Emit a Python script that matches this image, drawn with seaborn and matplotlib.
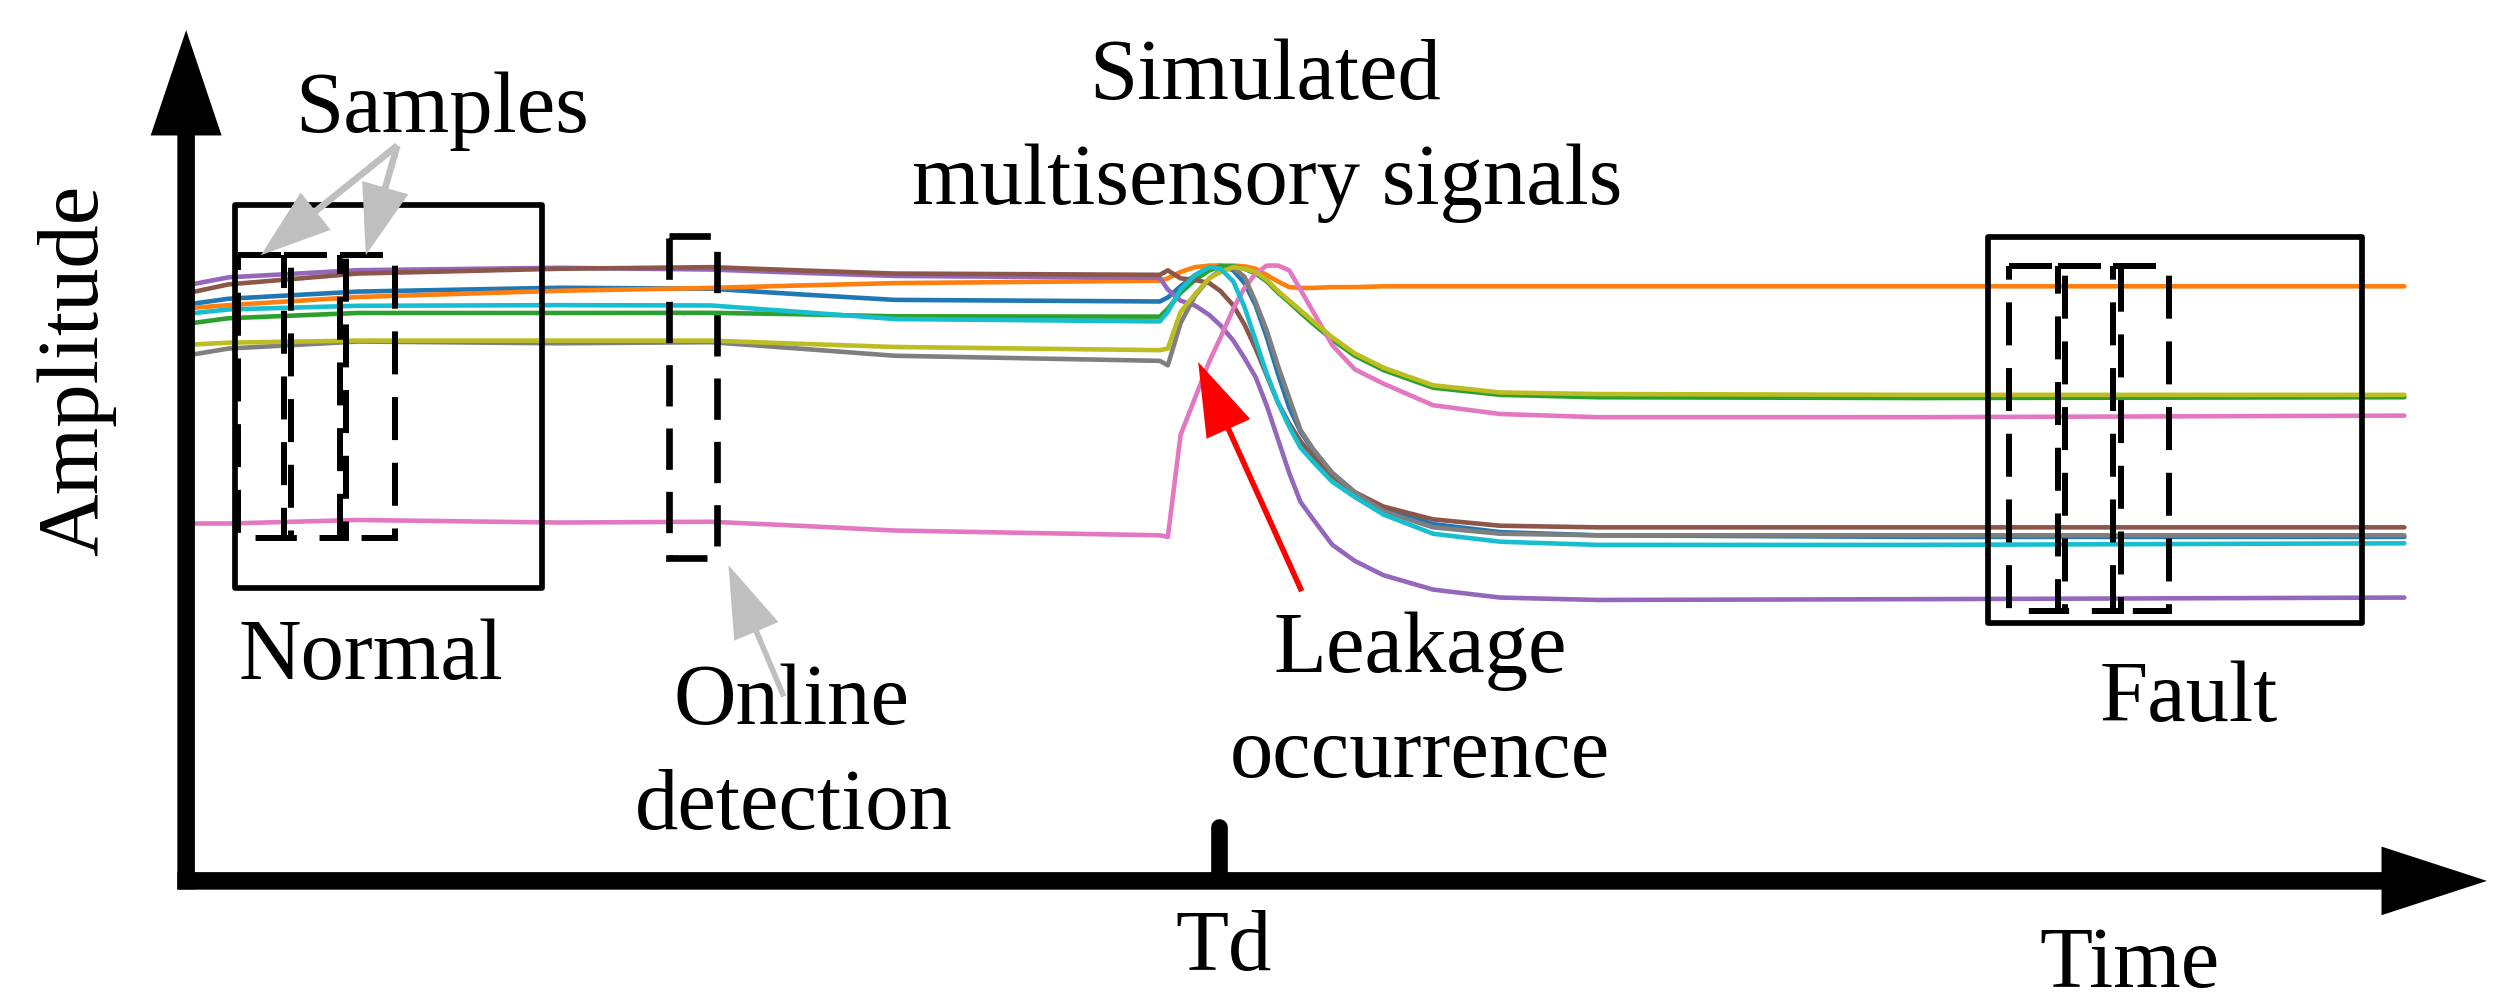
import numpy as np
import pandas as pd
import seaborn as sns
import matplotlib.pyplot as plt
from matplotlib.patches import Rectangle

# Time grid (arbitrary units) and the nine simulated sensor signals
# (amplitude values, drawn on an inverted axis like the sketch)
time = [122, 143, 224, 350, 445, 500, 560, 726, 731, 739, 748, 757, 764, 772, 779,
        786, 793, 800, 807, 814, 822, 834, 848, 866, 897, 939, 1000, 1200, 1505]

s_blue = [190.7, 187.8, 183.3, 180.9, 181.5, 185, 188.5, 189.5, 187, 180, 173, 168, 167, 170, 178,
          192, 212, 235, 256, 271, 283, 297, 309, 319, 329, 334, 336, 337, 337]
s_orange = [193.4, 191.8, 186.7, 182.8, 181, 179.5, 178, 176.5, 175, 171, 168, 167, 167, 167, 167.5,
            169, 173, 177, 180.5, 181, 181, 180.5, 180.5, 180, 180, 180, 180, 180, 180]
s_green = [202.8, 200, 196.7, 196.7, 196.6, 197.5, 198.8, 199, 194, 184, 176, 170, 167.5, 167.5, 169,
           172, 177, 184, 190, 196.5, 203.5, 213.5, 223.5, 232.5, 243.5, 248, 249.5, 250, 249.5]
s_purple = [178.4, 174.4, 169.9, 168.4, 169.5, 171.5, 173.5, 174.7, 182, 189, 192, 198, 204.5, 214, 225,
            237, 255, 276, 297, 315, 326, 342, 352, 361, 370, 375, 376.5, 376, 375]
s_brown = [183.3, 178.8, 172, 169, 168, 170, 172, 172.8, 170, 175, 176, 178, 183, 192, 204,
           219, 236, 253, 266, 277, 287, 299, 309, 318, 326, 330, 331, 331, 331]
s_pink = [328.6, 328.6, 326.4, 328, 327.5, 330, 333, 336, 337, 273, 250, 227, 212, 194, 181,
          172, 167, 167, 170, 182, 196, 217, 232, 241, 254.5, 260, 262, 262, 261]
s_gray = [222.5, 219, 214.6, 215.7, 215, 219, 223.5, 226.7, 229.5, 203, 186, 175, 170, 168.5, 174,
          190, 208, 230, 250, 270, 282, 297, 309, 321, 331, 335, 336, 336, 336]
s_olive = [216.4, 215.3, 214, 214, 214, 216, 218, 220, 219, 196, 185, 175, 171, 168, 169,
           171, 176, 183, 189, 195, 202, 212, 222, 231, 242, 246.5, 247.5, 248, 248]
s_cyan = [196.7, 194.5, 192.2, 191.8, 192, 196, 200.5, 202, 196, 182, 173, 168, 169, 177, 193,
          214, 235, 253, 268, 281, 290, 302.5, 312, 323, 335, 340, 342, 342, 341]

sensors = ["blue", "orange", "green", "purple", "brown", "pink", "gray", "olive", "cyan"]
series = [s_blue, s_orange, s_green, s_purple, s_brown, s_pink, s_gray, s_olive, s_cyan]

# long-form table for seaborn
df = pd.concat([pd.DataFrame({"time": time, "amplitude": vals, "sensor": name})
                for name, vals in zip(sensors, series)], ignore_index=True)

tab = sns.color_palette("tab10")
palette = dict(zip(sensors, [tab[i] for i in [0, 1, 2, 4, 5, 6, 7, 8, 9]]))

sns.set_style("white")
plt.rcParams['font.family'] = ['Liberation Serif', 'DejaVu Serif']

fig = plt.figure(figsize=(25.05, 10.04), dpi=100)
ax = fig.add_axes([0, 0, 1, 1])
ax.set_xlim(0, 1568)
ax.set_ylim(629, 0)
ax.axis("off")

sns.lineplot(data=df, x="time", y="amplitude", hue="sensor", hue_order=sensors,
             palette=palette, estimator=None, sort=False, legend=False,
             linewidth=3.3, ax=ax, zorder=2)

# boxes
box_kw = dict(fill=False, ec="black", lw=4.1, joinstyle="round", zorder=4)
ax.add_patch(Rectangle((147, 129), 192, 239.7, **box_kw))     # Normal
ax.add_patch(Rectangle((1244.4, 149.2), 234.2, 241.6, **box_kw))  # Fault

dash_kw = dict(fill=False, ec="black", lw=4.3, ls=(0, (7.2, 3.8)), zorder=4)
for x0, x1 in [(149, 182), (178, 216.8), (212.6, 247.5)]:
    ax.add_patch(Rectangle((x0, 160.3), x1 - x0, 177.1, **dash_kw))
for x0, x1 in [(1257.5, 1292.7), (1288, 1327.5), (1322.8, 1357.9)]:
    ax.add_patch(Rectangle((x0, 167), x1 - x0, 216.5, **dash_kw))
ax.add_patch(Rectangle((418.8, 148.6), 29.9, 201.9, fill=False, ec="black", lw=4.8,
                       ls=(0, (6.2, 3.3)), zorder=4))


def arrow(tail, tip, color, shaft, head_w, head_l):
    ax.arrow(tail[0], tail[1], tip[0] - tail[0], tip[1] - tail[1], width=shaft,
             head_width=head_w, head_length=head_l, length_includes_head=True,
             fc=color, ec="none", zorder=5)


# axes drawn as thick arrows
arrow((116.5, 557.8), (116.5, 19.5), "black", 11, 44.4, 66)
arrow((111, 552.5), (1556.7, 552.5), "black", 11, 43, 66)
# Td tick
ax.plot([763.2, 763.2], [518.5, 550], color="black", lw=12, solid_capstyle="round", zorder=5)

# pointer arrows
grey = "#bfbfbf"
arrow((248.7, 91.8), (163.3, 160.5), grey, 4.2, 30, 44)
arrow((248.7, 91.8), (229, 160.5), grey, 4.2, 30, 44)
arrow((490.6, 437), (456, 354.7), grey, 3.5, 30, 45)
arrow((814.8, 371), (750, 227.4), "#ff0000", 3.5, 30, 46)

# labels
fs = 62.5
txt = dict(fontsize=fs, color="black", ha="center", va="baseline", zorder=6)
ax.text(276.7, 82.4, "Samples", **txt)
ax.text(792, 62.2, "Simulated", **txt)
ax.text(793, 127.7, "multisensory signals", **txt)
ax.text(232.4, 425.7, "Normal", **txt)
ax.text(495.4, 453.8, "Online", **txt)
ax.text(497, 519.5, "detection", **txt)
ax.text(889, 421, "Leakage", **txt)
ax.text(889, 487, "occurrence", **txt)
ax.text(1370, 451.7, "Fault", **txt)
ax.text(765.6, 608, "Td", **txt)
ax.text(1333, 618.5, "Time", **txt)
ax.text(47.5, 232, "Amplitude", fontsize=fs, color="black", ha="center", va="center",
        rotation=90, zorder=6)

fig.savefig("out.png", dpi=100, facecolor="white")
